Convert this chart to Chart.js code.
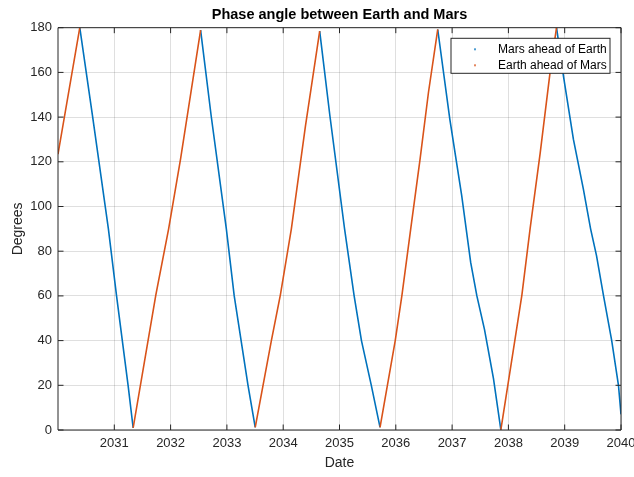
<!DOCTYPE html>
<html>
<head>
<meta charset="utf-8">
<title>Phase angle between Earth and Mars</title>
<script src="https://cdn.jsdelivr.net/npm/chart.js@4/dist/chart.umd.min.js"></script>
<style>
  html, body { margin: 0; padding: 0; background: #fff; }
  #wrap { width: 634px; height: 477px; }
</style>
</head>
<body>
<div id="wrap"><canvas id="phase"></canvas></div>
<script>
// decimal year / phase angle in degrees, a null angle breaks the line between branches
const marsYears = [
  2030.387, 2030.613, 2030.895, 2031.040, 2031.245, 2031.335, 2031.335,
  2032.533, 2032.721, 2032.990, 2033.130, 2033.375, 2033.503, 2033.503,
  2034.648, 2034.830, 2035.090, 2035.260, 2035.390, 2035.565, 2035.720, 2035.720,
  2036.745, 2036.960, 2037.170, 2037.250, 2037.330, 2037.440, 2037.575, 2037.735, 2037.866, 2037.866,
  2038.855, 2038.980, 2039.155, 2039.330, 2039.460, 2039.565, 2039.690, 2039.835, 2039.955, 2040.000
]
const marsDeg = [
  180, 140.5, 90, 60, 20, 0.9, null,
  178.9, 140.5, 90, 60, 20, 1.2, null,
  178.5, 140.5, 90, 60, 40, 20, 1.2, null,
  179.2, 139, 105, 90, 75, 60, 45, 23, 0.1, null,
  180, 158, 130, 108, 90, 78, 60, 40, 20, 7
]
const earthYears = [
  2030.000, 2030.387, 2030.387,
  2031.335, 2031.738, 2031.965, 2032.175, 2032.533, 2032.533,
  2033.503, 2033.790, 2033.950, 2034.145, 2034.395, 2034.648, 2034.648,
  2035.720, 2035.990, 2036.110, 2036.265, 2036.430, 2036.580, 2036.745, 2036.745,
  2037.866, 2038.120, 2038.240, 2038.385, 2038.565, 2038.745, 2038.855
]
const earthDeg = [
  123.4, 180, null,
  0.9, 60.5, 90, 121, 178.9, null,
  1.2, 40, 60.5, 90, 136, 178.5, null,
  1.2, 40, 60.5, 90, 121, 151, 179.2, null,
  0.1, 41, 60.5, 90, 124, 161, 180
]
const yearTicks = [2031, 2032, 2033, 2034, 2035, 2036, 2037, 2038, 2039, 2040]
const degTicks = [0, 20, 40, 60, 80, 100, 120, 140, 160, 180]

const FONT = '"Liberation Sans", Arial, Helvetica, sans-serif'
const INK = '#262626'
const toPoints = (xs, ys) => xs.map((x, i) => ({ x: x, y: ys[i] }))

// MATLAB style box: frame on all four sides, inward ticks, legend inside top right
const matlabAxes = {
  id: 'matlabAxes',
  afterDraw(chart) {
    const { ctx, chartArea: a, scales } = chart
    const tl = 5.5
    ctx.save()
    ctx.strokeStyle = INK
    ctx.lineWidth = 1
    ctx.beginPath()
    ctx.rect(a.left, a.top, a.right - a.left, a.bottom - a.top)
    scales.x.ticks.forEach(t => {
      const px = scales.x.getPixelForValue(t.value)
      ctx.moveTo(px, a.bottom); ctx.lineTo(px, a.bottom - tl)
      ctx.moveTo(px, a.top); ctx.lineTo(px, a.top + tl)
    })
    scales.y.ticks.forEach(t => {
      const py = scales.y.getPixelForValue(t.value)
      ctx.moveTo(a.left, py); ctx.lineTo(a.left + tl, py)
      ctx.moveTo(a.right, py); ctx.lineTo(a.right - tl, py)
    })
    ctx.stroke()

    // legend
    const w = 159, h = 35
    const lx = a.right - 11 - w, ly = a.top + 10.6
    ctx.fillStyle = '#fff'
    ctx.fillRect(lx, ly, w, h)
    ctx.strokeStyle = INK
    ctx.strokeRect(lx, ly, w, h)
    const items = [chart.data.datasets[1], chart.data.datasets[0]]
    ctx.font = '12px ' + FONT
    ctx.textBaseline = 'middle'
    ctx.textAlign = 'left'
    items.forEach((ds, i) => {
      const cy = ly + 11 + i * 16
      ctx.fillStyle = ds.borderColor
      ctx.globalAlpha = 0.7
      ctx.fillRect(lx + 23, cy - 1, 2, 2)
      ctx.globalAlpha = 1
      ctx.fillStyle = '#000'
      ctx.fillText(ds.label, lx + 47, cy)
    })
    ctx.restore()
  }
}

const ctx = document.getElementById('phase')
new Chart(ctx, {
  type: 'line',
  data: {
    datasets: [
      {
        label: 'Earth ahead of Mars',
        data: toPoints(earthYears, earthDeg),
        borderColor: '#D95319',
        backgroundColor: '#D95319',
        borderWidth: 1.6,
        pointRadius: 0,
        tension: 0,
        spanGaps: false,
        order: 0
      },
      {
        label: 'Mars ahead of Earth',
        data: toPoints(marsYears, marsDeg),
        borderColor: '#0072BD',
        backgroundColor: '#0072BD',
        borderWidth: 1.6,
        pointRadius: 0,
        tension: 0,
        spanGaps: false,
        order: 1
      }
    ]
  },
  options: {
    responsive: true,
    maintainAspectRatio: false,
    animation: false,
    events: [],
    layout: { padding: { left: 0, right: 13, top: 0, bottom: 0 } },
    plugins: {
      legend: { display: false },
      tooltip: { enabled: false },
      title: {
        display: true,
        text: 'Phase angle between Earth and Mars',
        fullSize: false,
        color: '#000',
        font: { family: FONT, size: 14.5, weight: 'bold' },
        padding: { top: 6.3, bottom: 4 }
      }
    },
    scales: {
      x: {
        type: 'linear',
        min: 2030,
        max: 2040,
        afterBuildTicks: s => { s.ticks = yearTicks.map(v => ({ value: v })) },
        afterFit: s => { s.height = 47; s.paddingLeft = 0; s.paddingRight = 0 },
        ticks: {
          color: INK,
          font: { family: FONT, size: 13 },
          padding: 6,
          maxRotation: 0,
          autoSkip: false,
          callback: v => String(v)
        },
        grid: { color: 'rgba(38,38,38,0.15)', drawTicks: false },
        border: { display: false },
        title: {
          display: true,
          text: 'Date',
          color: INK,
          font: { family: FONT, size: 14 },
          padding: { top: 0, bottom: 5 }
        }
      },
      y: {
        min: 0,
        max: 180,
        afterBuildTicks: s => { s.ticks = degTicks.map(v => ({ value: v })) },
        afterFit: s => { s.width = 58; s.paddingTop = 0; s.paddingBottom = 0 },
        ticks: {
          color: INK,
          font: { family: FONT, size: 13 },
          padding: 6,
          callback: v => String(v)
        },
        grid: { color: 'rgba(38,38,38,0.15)', drawTicks: false },
        border: { display: false },
        title: {
          display: true,
          text: 'Degrees',
          color: INK,
          font: { family: FONT, size: 14 },
          padding: { top: 10, bottom: 0 }
        }
      }
    }
  },
  plugins: [matlabAxes]
})
</script>
</body>
</html>
